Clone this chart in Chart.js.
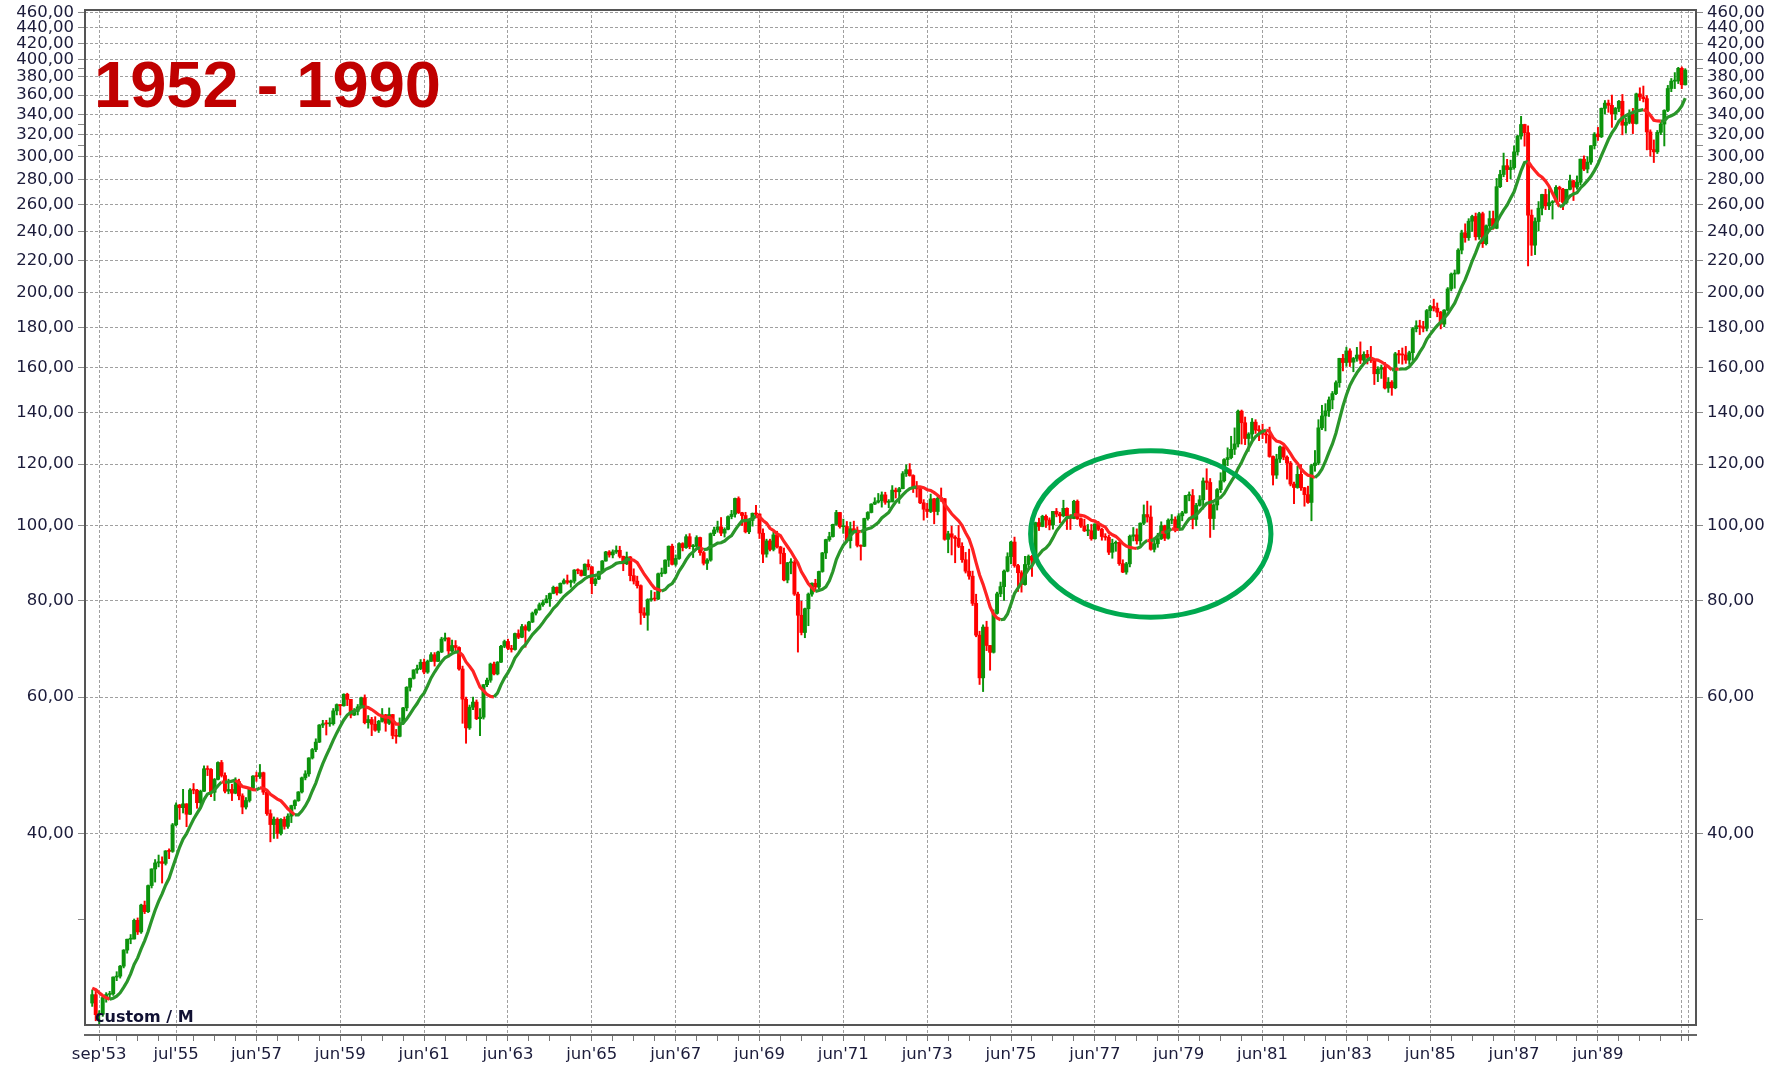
<!DOCTYPE html>
<html>
<head>
<meta charset="utf-8">
<title>1952 - 1990</title>
<script src="https://cdn.jsdelivr.net/npm/chart.js@4.4.1/dist/chart.umd.min.js"></script>
<style>
  html, body { margin: 0; padding: 0; background: #fff; }
</style>
</head>
<body>
<canvas id="chart" width="1780" height="1066"></canvas>
<script>
// monthly index, closes start jan'52 so the 10 month average is ready at the first candle
const firstMonth = '1952-01';
const closes = [
  24.14, 23.26, 24.37, 23.32, 23.86, 24.96, 25.40, 25.03, 24.54, 24.52, 25.66, 26.57, // 1952
  26.38, 25.90, 25.29, 24.62, 24.54, 24.14, 24.75, 23.32, 23.35, 24.54, 24.76, 24.81, // 1953
  26.08, 26.15, 26.94, 28.26, 29.19, 29.21, 30.88, 29.83, 32.31, 31.68, 34.24, 35.98, // 1954
  36.63, 36.76, 36.58, 37.96, 37.91, 41.03, 43.52, 43.18, 43.67, 42.34, 45.51, 45.48, // 1955
  43.82, 45.34, 48.48, 48.38, 45.20, 46.97, 49.39, 47.51, 45.35, 45.58, 45.08, 46.67, // 1956
  44.72, 43.26, 44.11, 45.74, 47.43, 47.37, 47.91, 45.22, 42.42, 41.06, 41.72, 39.99, // 1957
  41.70, 40.84, 42.10, 43.44, 44.09, 45.24, 47.19, 47.75, 50.06, 51.33, 52.48, 55.21, // 1958
  55.42, 55.41, 55.44, 57.59, 58.68, 58.47, 60.51, 59.60, 56.88, 57.52, 58.28, 59.89, // 1959
  55.61, 56.12, 55.34, 54.37, 55.83, 56.92, 55.51, 56.96, 53.52, 53.39, 55.54, 58.11, // 1960
  61.78, 63.44, 65.06, 65.31, 66.56, 64.64, 66.76, 68.07, 66.73, 68.62, 71.32, 71.55, // 1961
  68.84, 69.96, 69.55, 65.24, 59.63, 54.75, 58.23, 59.12, 56.27, 56.52, 62.26, 63.10, // 1962
  66.20, 64.29, 66.57, 69.80, 70.80, 69.37, 69.13, 72.50, 71.70, 74.01, 73.23, 75.02, // 1963
  77.04, 77.80, 78.98, 79.46, 80.37, 81.69, 83.18, 81.83, 84.18, 84.86, 84.42, 84.75, // 1964
  87.56, 87.43, 86.16, 89.11, 88.42, 84.12, 85.25, 87.17, 89.96, 92.42, 91.61, 92.43, // 1965
  92.88, 91.22, 89.23, 91.06, 86.13, 84.74, 83.60, 77.10, 76.56, 80.20, 80.45, 80.33, // 1966
  86.61, 86.78, 90.20, 94.01, 89.08, 90.64, 94.75, 93.64, 96.71, 93.90, 94.00, 96.47, // 1967
  92.24, 89.36, 90.20, 97.59, 98.68, 99.58, 97.74, 98.86, 102.67, 103.41, 108.37, 103.86, // 1968
  103.01, 98.13, 101.51, 103.69, 103.46, 97.71, 91.83, 95.51, 93.12, 97.24, 93.81, 92.06, // 1969
  85.02, 89.50, 89.63, 81.52, 76.55, 72.72, 78.05, 81.52, 84.21, 83.25, 87.20, 92.15, // 1970
  95.88, 96.75, 100.31, 103.95, 99.63, 99.70, 95.58, 99.03, 98.34, 94.23, 93.99, 102.09, // 1971
  103.94, 106.57, 107.20, 107.67, 109.53, 107.14, 107.39, 111.09, 110.55, 111.58, 116.67, 118.05, // 1972
  116.03, 111.68, 111.52, 106.97, 104.95, 104.26, 108.22, 104.25, 108.43, 108.29, 95.96, 97.55, // 1973
  96.57, 96.22, 93.98, 90.31, 87.28, 86.00, 79.31, 72.15, 63.54, 73.90, 69.97, 68.56, // 1974
  76.98, 81.59, 83.36, 87.30, 91.15, 95.19, 88.75, 86.88, 83.87, 89.04, 91.24, 90.19, // 1975
  100.86, 99.71, 102.77, 101.64, 100.18, 104.28, 103.44, 102.91, 105.24, 102.90, 102.10, 107.46, // 1976
  102.03, 99.82, 98.42, 98.44, 96.12, 100.48, 98.85, 96.77, 96.53, 92.34, 94.83, 95.10, // 1977
  89.25, 87.04, 89.21, 96.83, 97.24, 95.53, 100.68, 103.29, 102.54, 93.15, 94.70, 96.11, // 1978
  99.93, 96.28, 101.59, 101.76, 99.08, 102.91, 103.81, 109.32, 109.32, 101.82, 106.16, 107.94, // 1979
  114.16, 113.66, 102.09, 106.29, 111.24, 114.24, 121.67, 122.38, 125.46, 127.47, 140.52, 135.76, // 1980
  129.55, 131.27, 136.00, 132.81, 132.59, 131.21, 130.92, 122.79, 116.18, 121.89, 126.35, 122.55, // 1981
  120.40, 113.11, 111.96, 116.44, 111.88, 109.61, 107.09, 119.51, 120.42, 133.71, 138.54, 140.64, // 1982
  145.30, 148.06, 152.96, 164.42, 162.39, 168.11, 162.56, 164.40, 166.07, 163.55, 166.40, 164.93, // 1983
  163.41, 157.06, 159.18, 160.05, 150.55, 153.18, 150.66, 166.68, 166.10, 166.09, 163.58, 167.24, // 1984
  179.63, 181.18, 180.66, 179.83, 189.55, 191.85, 190.92, 188.63, 182.08, 189.82, 202.17, 211.28, // 1985
  211.78, 226.92, 238.90, 235.52, 247.35, 250.84, 236.12, 252.93, 231.32, 243.98, 249.22, 242.17, // 1986
  274.08, 284.20, 291.70, 288.36, 290.10, 304.00, 318.66, 329.80, 321.83, 251.79, 230.30, 247.08, // 1987
  257.07, 267.82, 258.89, 261.33, 262.16, 273.50, 272.02, 261.52, 271.91, 278.97, 273.70, 277.72, // 1988
  297.47, 288.86, 294.87, 309.64, 320.52, 317.98, 346.08, 351.45, 349.15, 340.36, 345.99, 353.40, // 1989
  329.08, 331.89, 339.94, 330.80, 361.23, 358.02, 356.15, 322.56, 306.05, 304.00, 322.22, 330.22, // 1990
  343.93, 367.07, 375.22, 375.35, 389.83, 371.16, 387.81 // 1991
];

// candles are drawn from jul'53, open = previous month close
const candleStart = '1953-07';
const highs = [
  25.1, 25.0, 23.6, 24.6, 24.9, 25.0, // 1953
  26.1, 26.5, 27.0, 28.3, 29.2, 29.6, 31.0, 31.1, 32.4, 32.7, 34.3, 36.0,
  37.0, 37.5, 37.3, 38.0, 38.2, 41.2, 43.8, 43.6, 45.6, 43.7, 45.7, 46.4,
  45.6, 45.5, 48.9, 48.9, 48.5, 47.1, 49.5, 49.7, 47.9, 47.0, 46.3, 47.2,
  47.0, 45.0, 44.5, 45.8, 47.5, 48.0, 49.1, 48.0, 45.6, 42.9, 42.0, 41.9,
  41.8, 42.0, 42.4, 43.5, 44.2, 45.3, 47.3, 48.2, 50.1, 51.5, 53.0, 55.3,
  56.0, 56.0, 56.4, 58.0, 58.8, 58.7, 60.6, 60.7, 59.6, 58.0, 58.7, 60.0,
  60.4, 56.8, 56.5, 56.6, 56.0, 58.0, 57.0, 58.1, 57.0, 54.5, 56.4, 58.2, // 1960
  61.9, 63.5, 65.1, 66.0, 67.1, 67.2, 67.0, 68.5, 68.5, 68.8, 71.7, 72.6,
  71.6, 71.1, 71.0, 69.7, 65.8, 60.0, 58.6, 60.0, 59.5, 58.0, 62.3, 63.5,
  66.4, 66.6, 66.7, 70.0, 71.1, 71.3, 70.0, 72.6, 73.3, 74.5, 74.4, 75.2,
  77.3, 78.0, 79.4, 80.1, 81.2, 81.8, 83.5, 83.3, 84.3, 85.3, 86.3, 85.0,
  87.7, 87.9, 87.6, 89.2, 90.3, 88.5, 85.6, 87.3, 90.1, 92.6, 92.8, 93.0,
  94.1, 94.0, 91.3, 92.4, 91.2, 87.9, 86.0, 83.8, 78.3, 80.4, 82.4, 82.0,
  86.8, 88.1, 90.3, 94.1, 94.6, 91.6, 95.0, 95.0, 97.3, 97.6, 94.5, 97.0,
  96.6, 92.6, 90.6, 97.8, 99.5, 101.3, 102.4, 99.3, 102.9, 104.6, 108.5, 108.9,
  104.0, 104.0, 101.6, 103.8, 106.2, 103.6, 99.0, 96.0, 96.0, 98.0, 98.3, 94.0,
  93.5, 89.6, 90.6, 90.1, 82.0, 79.8, 78.2, 81.8, 84.3, 85.2, 87.3, 92.3, // 1970
  96.0, 98.0, 100.4, 104.6, 104.0, 101.9, 101.2, 101.0, 101.3, 99.6, 94.4, 102.2,
  104.2, 106.7, 108.6, 110.0, 110.5, 110.4, 108.0, 112.6, 111.8, 112.0, 117.4, 119.8,
  120.2, 116.3, 114.0, 112.0, 108.0, 106.8, 109.8, 108.4, 109.1, 111.8, 108.4, 98.3,
  99.8, 97.0, 100.0, 95.0, 92.3, 93.2, 87.3, 81.5, 73.0, 74.4, 75.2, 70.0,
  77.8, 82.0, 84.5, 87.6, 92.2, 95.4, 96.6, 89.1, 87.4, 91.2, 91.6, 91.5,
  101.0, 102.2, 103.1, 103.2, 102.3, 104.3, 105.2, 104.0, 107.8, 105.4, 103.3, 107.8,
  107.9, 102.3, 101.9, 100.3, 100.3, 100.5, 101.2, 99.2, 97.6, 97.2, 96.0, 95.5,
  95.2, 90.3, 89.6, 97.2, 99.4, 99.0, 100.8, 106.3, 107.5, 106.0, 96.4, 97.7,
  101.1, 100.1, 102.0, 103.3, 102.6, 103.6, 104.3, 109.4, 110.5, 111.3, 106.8, 109.3,
  115.2, 118.4, 115.0, 106.7, 111.6, 117.0, 122.0, 126.0, 130.4, 133.7, 141.0, 141.0, // 1980
  138.1, 131.8, 137.5, 137.0, 134.6, 135.2, 132.3, 134.0, 123.0, 123.6, 126.7, 126.4,
  123.0, 121.0, 113.8, 119.3, 119.9, 112.0, 112.4, 120.0, 125.0, 137.0, 143.0, 143.7,
  146.6, 149.0, 153.8, 164.5, 166.4, 170.0, 169.2, 164.9, 169.9, 172.7, 167.7, 168.4,
  170.4, 163.9, 160.4, 161.2, 162.5, 155.3, 153.9, 167.4, 168.4, 169.6, 170.4, 168.0,
  180.3, 183.9, 184.2, 183.6, 190.2, 192.6, 196.1, 193.9, 189.1, 190.1, 203.0, 212.0,
  213.9, 227.9, 240.8, 245.4, 249.2, 251.8, 253.4, 254.0, 254.1, 244.6, 254.9, 254.9,
  280.9, 287.8, 302.9, 297.3, 296.6, 309.5, 319.3, 337.9, 330.1, 328.5, 255.8, 249.8,
  262.2, 268.0, 272.0, 272.3, 263.0, 275.0, 274.5, 272.8, 272.0, 283.7, 279.4, 283.0,
  297.6, 300.4, 299.7, 309.7, 322.0, 327.0, 346.4, 354.2, 354.7, 360.0, 347.0, 354.3,
  360.6, 336.1, 344.5, 346.0, 362.1, 367.9, 369.8, 359.4, 324.6, 315.0, 324.0, 332.0, // 1990
  344.6, 370.5, 378.2, 384.9, 391.0, 391.5, 389.4 // 1991
];
const lows = [
  23.9, 22.9, 22.7, 23.2, 24.2, 24.4, // 1953
  24.7, 25.8, 26.0, 26.8, 28.0, 28.8, 29.2, 29.6, 29.7, 31.5, 31.6, 34.0,
  34.6, 36.2, 34.5, 36.4, 37.1, 37.8, 40.9, 41.7, 42.5, 40.8, 42.3, 45.0,
  43.1, 43.4, 45.3, 47.5, 44.6, 44.1, 46.9, 47.3, 45.1, 45.0, 44.1, 45.0,
  44.2, 42.4, 43.0, 43.9, 45.6, 46.7, 47.1, 44.9, 42.2, 39.0, 39.4, 39.4,
  39.8, 40.5, 40.6, 41.3, 43.0, 44.0, 45.1, 46.9, 47.4, 49.9, 51.0, 52.4,
  54.8, 53.6, 55.0, 55.2, 56.9, 56.9, 58.4, 58.5, 56.4, 56.8, 56.9, 58.2,
  55.4, 54.7, 53.5, 54.2, 54.0, 55.7, 54.2, 55.3, 53.0, 52.3, 53.3, 55.3, // 1960
  57.6, 61.1, 63.3, 64.4, 65.1, 64.3, 64.4, 66.7, 65.8, 66.7, 68.5, 70.9,
  67.6, 68.6, 68.9, 65.0, 55.5, 52.3, 54.5, 57.8, 56.1, 53.5, 56.2, 61.9,
  62.7, 64.1, 64.1, 66.5, 69.5, 69.1, 68.6, 69.0, 71.4, 71.6, 69.6, 73.0,
  74.9, 76.6, 77.7, 78.6, 79.4, 78.6, 81.6, 81.3, 81.7, 84.0, 84.0, 83.2,
  84.2, 86.6, 86.0, 86.1, 87.6, 81.6, 83.6, 85.1, 87.1, 89.9, 91.0, 90.8,
  92.0, 90.8, 87.4, 89.0, 84.8, 84.0, 83.0, 74.5, 76.0, 73.2, 79.8, 79.9,
  80.2, 85.9, 86.6, 88.5, 88.9, 88.6, 90.4, 92.7, 93.4, 93.3, 90.9, 93.8,
  91.5, 88.9, 87.7, 89.9, 97.0, 98.0, 97.0, 96.6, 98.7, 102.0, 102.5, 103.6,
  100.0, 97.8, 97.6, 99.8, 102.8, 96.2, 89.5, 91.0, 92.7, 92.7, 93.5, 89.2,
  84.8, 84.3, 86.6, 81.2, 68.6, 72.2, 71.6, 74.2, 81.0, 82.3, 82.8, 87.0, // 1970
  90.6, 95.4, 96.6, 100.1, 99.2, 97.7, 95.2, 93.5, 97.8, 93.8, 90.2, 93.9,
  101.6, 103.8, 106.4, 106.9, 105.6, 106.5, 105.4, 107.2, 108.5, 106.8, 111.5, 115.7,
  115.8, 110.3, 108.8, 106.7, 101.6, 102.4, 103.9, 100.5, 103.2, 107.4, 95.7, 92.2,
  91.6, 89.5, 93.6, 89.6, 86.8, 85.2, 78.8, 71.8, 62.3, 61.0, 68.9, 65.0,
  68.4, 76.8, 80.9, 80.0, 87.1, 89.2, 88.3, 82.2, 82.0, 83.7, 88.2, 85.9,
  90.0, 98.5, 99.6, 99.4, 98.7, 98.9, 102.6, 100.8, 102.6, 98.8, 98.8, 102.0,
  101.8, 99.4, 98.2, 97.0, 95.7, 96.0, 98.5, 95.7, 95.7, 91.7, 90.7, 92.6,
  88.8, 86.9, 86.5, 88.4, 95.5, 94.6, 94.3, 100.2, 101.0, 92.9, 92.4, 93.7,
  95.9, 95.6, 96.0, 100.5, 98.1, 98.9, 101.4, 103.7, 107.6, 99.0, 99.9, 105.9,
  105.0, 111.3, 96.5, 98.8, 104.7, 110.3, 113.8, 119.5, 121.9, 123.5, 126.3, 127.4, // 1980
  127.2, 124.7, 128.5, 131.5, 128.7, 129.5, 127.8, 122.5, 112.8, 115.0, 120.6, 121.6,
  114.8, 112.5, 106.7, 111.7, 111.0, 105.9, 106.8, 101.4, 117.5, 119.8, 133.0, 132.5,
  138.3, 141.5, 147.6, 150.9, 158.4, 160.6, 160.5, 158.0, 163.0, 161.9, 161.6, 161.7,
  162.4, 152.1, 153.4, 154.9, 150.1, 148.6, 147.3, 150.2, 162.0, 161.6, 162.0, 161.5,
  163.4, 177.9, 176.5, 177.9, 178.4, 185.6, 189.3, 186.1, 179.5, 180.7, 189.4, 201.0,
  202.6, 211.3, 224.4, 232.3, 233.6, 239.9, 233.8, 234.3, 228.7, 230.4, 239.9, 241.4,
  241.8, 273.3, 282.3, 278.2, 280.7, 288.6, 301.0, 315.7, 309.2, 216.5, 223.3, 223.9,
  240.2, 252.0, 256.0, 256.0, 248.9, 261.9, 262.2, 256.0, 260.6, 271.4, 263.0, 272.0,
  275.3, 287.5, 285.6, 292.9, 306.6, 314.5, 317.2, 340.2, 342.0, 327.0, 334.5, 342.6,
  319.8, 321.4, 330.5, 321.0, 330.2, 354.2, 352.7, 305.8, 300.1, 294.5, 302.5, 320.0, // 1990
  309.4, 342.6, 363.6, 367.0, 372.5, 367.0, 370.9 // 1991
];

const maPeriod = 10;

const tickMonths = ['1953-09', '1955-07', '1957-06', '1959-06', '1961-06', '1963-06', '1965-06',
  '1967-06', '1969-06', '1971-06', '1973-06', '1975-06', '1977-06', '1979-06', '1981-06',
  '1983-06', '1985-06', '1987-06', '1989-06'];
const tickLabels = ["sep'53", "jul'55", "jun'57", "jun'59", "jun'61", "jun'63", "jun'65",
  "jun'67", "jun'69", "jun'71", "jun'73", "jun'75", "jun'77", "jun'79", "jun'81",
  "jun'83", "jun'85", "jun'87", "jun'89"];
const extraGridMonths = ['1991-06', '1991-08'];
const earlyMinorMonths = ['1954-02', '1954-08', '1955-02'];

const yTickValues = [40, 60, 80, 100, 120, 140, 160, 180, 200, 220, 240, 260, 280, 300,
  320, 340, 360, 380, 400, 420, 440, 460];
const yMinorTicks = [31, 310, 330, 390];

const title = '1952 - 1990';
const caption = 'custom / M';
// highlighted zone (months / index values)
const zone = { from: 286.6, to: 355.4, low: 76.1, high: 124.9 };

function monthIndex(s) {
  const [y, m] = s.split('-').map(Number);
  const [y0, m0] = firstMonth.split('-').map(Number);
  return (y - y0) * 12 + (m - m0);
}

const GREEN = '#0c930c';
const RED = '#ff0000';
const MA_GREEN = '#2a962a';
const MA_RED = '#ff2222';
const GRID = '#a0a0a0';
const TEXT = '#1b1b3a';

const c0 = monthIndex(candleStart);
const wickData = [];
const bodyData = [];
const maData = [];
highs.forEach((h, k) => {
  const i = c0 + k;
  const open = closes[i - 1];
  const close = closes[i];
  wickData.push({ x: i, y: [lows[k], h], up: close >= open });
  bodyData.push({ x: i, y: [open, close], up: close >= open });
  let sum = 0;
  for (let j = i - maPeriod + 1; j <= i; j++) sum += closes[j];
  maData.push({ x: i, y: sum / maPeriod });
});

const labelAt = new Map(tickMonths.map((m, k) => [monthIndex(m), tickLabels[k]]));
const gridAt = new Set([...labelAt.keys(), ...extraGridMonths.map(monthIndex)]);
const xTicks = new Set([...gridAt, ...earlyMinorMonths.map(monthIndex)]);
for (let i = monthIndex('1955-12'); i <= monthIndex('1991-06'); i += 6) xTicks.add(i);

const fmt = v => v.toFixed(2).replace('.', ',');
const tickFont = { family: 'DejaVu Sans', size: 16.5 };

function yAxis(position, drawArea) {
  return {
    type: 'logarithmic',
    position,
    min: 21.95,
    max: 463.7,
    border: { display: false, dash: [3, 2] },
    grid: {
      drawOnChartArea: drawArea,
      color: ctx => (ctx.tick && yTickValues.includes(ctx.tick.value)) ? GRID : 'rgba(0,0,0,0)',
      tickColor: '#8a8a8a',
      tickLength: 7
    },
    ticks: {
      autoSkip: false,
      color: TEXT,
      font: tickFont,
      padding: 4,
      callback: v => yTickValues.includes(v) ? fmt(v) : ''
    },
    afterBuildTicks: s => {
      s.ticks = [...yTickValues, ...yMinorTicks].sort((a, b) => a - b).map(v => ({ value: v }));
    },
    afterFit: s => {
      s.width = position === 'left' ? 85 : 84;
      s.paddingTop = 0;
      s.paddingBottom = 0;
    }
  };
}

const decor = {
  id: 'decor',
  beforeDatasetsDraw(chart) {
    const { ctx, chartArea: a } = chart;
    ctx.save();
    ctx.strokeStyle = '#555';
    ctx.lineWidth = 2;
    ctx.strokeRect(a.left, a.top, a.right - a.left, a.bottom - 10 - a.top);
    ctx.restore();
  },
  afterDatasetsDraw(chart) {
    const { ctx, chartArea: a, scales } = chart;
    ctx.save();
    // title
    ctx.fillStyle = '#c00000';
    ctx.font = 'bold 65px "Liberation Sans", Arial, sans-serif';
    ctx.textBaseline = 'alphabetic';
    ctx.fillText(title, a.left + 9, a.top + 97);
    // caption
    ctx.fillStyle = '#111133';
    ctx.font = 'bold 16px "DejaVu Sans", sans-serif';
    ctx.fillText(caption, a.left + 10, a.bottom - 13);
    // highlighted zone
    const x1 = scales.x.getPixelForValue(zone.from);
    const x2 = scales.x.getPixelForValue(zone.to);
    const y1 = scales.y.getPixelForValue(zone.high);
    const y2 = scales.y.getPixelForValue(zone.low);
    ctx.strokeStyle = '#00a94f';
    ctx.lineWidth = 5;
    ctx.beginPath();
    ctx.ellipse((x1 + x2) / 2, (y1 + y2) / 2, (x2 - x1) / 2, (y2 - y1) / 2, 0, 0, Math.PI * 2);
    ctx.stroke();
    ctx.restore();
  }
};

new Chart(document.getElementById('chart'), {
  type: 'bar',
  data: {
    datasets: [
      {
        type: 'line',
        data: maData,
        order: 0,
        borderWidth: 3.2,
        pointRadius: 0,
        tension: 0,
        borderColor: MA_GREEN,
        segment: {
          borderColor: ctx => ctx.p1.parsed.y < ctx.p0.parsed.y ? MA_RED : MA_GREEN
        }
      },
      {
        data: bodyData,
        order: 1,
        grouped: false,
        barThickness: 3.3,
        minBarLength: 1,
        borderWidth: 0,
        backgroundColor: ctx => (ctx.raw && ctx.raw.up) ? GREEN : RED
      },
      {
        data: wickData,
        order: 2,
        grouped: false,
        barThickness: 1.3,
        borderWidth: 0,
        backgroundColor: ctx => (ctx.raw && ctx.raw.up) ? GREEN : RED
      }
    ]
  },
  options: {
    responsive: false,
    animation: false,
    events: [],
    layout: { padding: { top: 10, left: 0, right: 0, bottom: 0 } },
    plugins: { legend: { display: false }, tooltip: { enabled: false } },
    scales: {
      x: {
        type: 'linear',
        min: 15.93,
        max: 477.07,
        offset: false,
        border: { display: true, color: '#666', width: 2, dash: [3, 2] },
        grid: {
          offset: false,
          color: ctx => (ctx.tick && gridAt.has(ctx.tick.value)) ? GRID : 'rgba(0,0,0,0)',
          tickColor: '#777',
          tickLength: 6
        },
        ticks: {
          autoSkip: false,
          maxRotation: 0,
          color: TEXT,
          font: tickFont,
          padding: 4,
          callback: v => labelAt.get(v) || ''
        },
        afterBuildTicks: s => {
          s.ticks = [...xTicks].sort((a, b) => a - b).map(v => ({ value: v }));
        },
        afterFit: s => {
          s.height = 31;
          s.paddingLeft = 0;
          s.paddingRight = 0;
        }
      },
      y: yAxis('left', true),
      y2: yAxis('right', false)
    }
  },
  plugins: [decor]
});
</script>
</body>
</html>
